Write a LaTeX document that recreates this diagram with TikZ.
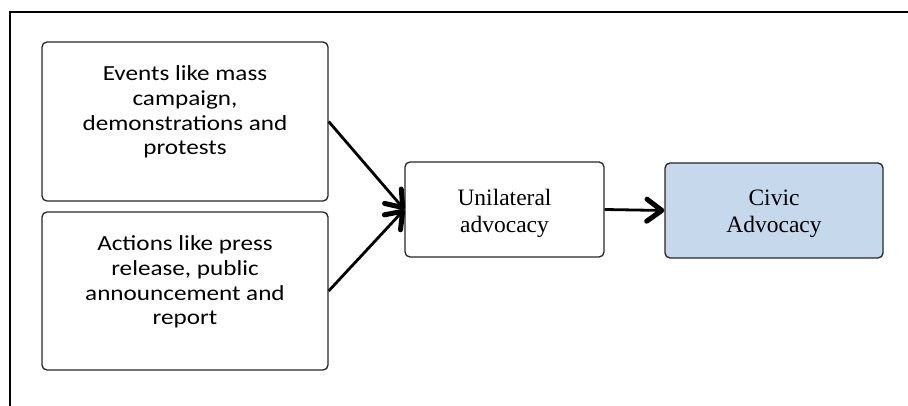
\documentclass[tikz,border=0pt]{standalone}
\usepackage{fontspec}
\setmainfont{Liberation Serif}
\newfontfamily\calfont[FakeStretch=1.17]{Carlito}
\usetikzlibrary{arrows.meta}
\definecolor{civicblue}{HTML}{C6D8EC}
\definecolor{boxline}{HTML}{262626}
\begin{document}
\begin{tikzpicture}[x=1pt,y=-1pt,
  roundbox/.style={draw=boxline,line width=1.3pt,rounded corners=5pt,inner sep=0pt},
  sanstext/.style={align=center,inner sep=0pt,font=\fontsize{21.5}{24.6}\selectfont\calfont},
  seriftext/.style={align=center,inner sep=0pt,font=\fontsize{23.5}{27}\selectfont},
  flow/.style={line width=2.8pt,-{Straight Barb[length=15pt,width=22pt,line width=5pt,round]}}]
\useasboundingbox (0,0) rectangle (908,406);
% open frame: top and left edges only
\coordinate (frameTL) at (10,12);
\coordinate (frameTR) at (908,12);
\coordinate (frameBL) at (10,406);
\draw[line width=1.1pt] (frameTR) -- (frameTL) -- (frameBL);
% source boxes
\node[roundbox,minimum width=286pt,minimum height=159pt] (events) at (185,121.5) {};
\node[sanstext] (eventsText) at (185,112) {Events like mass\\campaign,\\demonstrations and\\protests};
\node[roundbox,minimum width=286pt,minimum height=158pt] (actions) at (185,291) {};
\node[sanstext] (actionsText) at (185,282) {Actions like press\\release, public\\announcement and\\report};
% middle and outcome boxes
\node[roundbox,minimum width=199pt,minimum height=95pt] (unilateral) at (504.5,209.5) {};
\node[seriftext] (unilateralText) at (504.5,213.5) {Unilateral\\advocacy};
\node[roundbox,fill=civicblue,minimum width=218pt,minimum height=95pt] (civic) at (774,210.5) {};
\node[seriftext] (civicText) at (774,214) {Civic\\Advocacy};
% connectors
\draw[flow] (events.east) -- (unilateral.west);
\draw[flow] (actions.east) -- (unilateral.west);
\draw[flow] (unilateral.east) -- (civic.west);
\end{tikzpicture}
\end{document}
